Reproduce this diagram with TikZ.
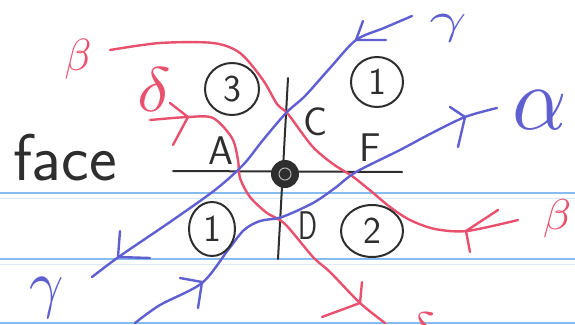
\documentclass[tikz,border=0pt]{standalone}
\usepackage{fontspec}
\usepackage{graphicx}
\usetikzlibrary{shapes.geometric}
\definecolor{pencilc}{HTML}{2E2E2E}
\definecolor{redc}{HTML}{E8506E}
\definecolor{bluec}{HTML}{5F5FD2}
\definecolor{rulec}{HTML}{86BCEE}
\definecolor{faintc}{HTML}{DCE9F6}
\begin{document}
\begin{tikzpicture}[x=1pt,y=-1pt,
  pencil/.style={draw=pencilc, line width=2pt, line cap=round, line join=round},
  redpen/.style={draw=redc, line width=2.4pt, line cap=round, line join=round},
  bluepen/.style={draw=bluec, line width=2.4pt, line cap=round, line join=round},
  ruled/.style={draw=rulec, line width=1.4pt},
  faint/.style={draw=faintc, line width=1pt},
  lbl/.style={inner sep=0pt, text=pencilc, font=\fontsize{40}{40}\selectfont\sffamily},
  greek/.style={inner sep=0pt},
  numcirc/.style={pencil, ellipse, inner sep=0pt, text=pencilc, font=\fontsize{38}{38}\selectfont\sffamily},
  dot/.style={circle, fill=pencilc, inner sep=0pt, minimum size=28pt}
]
\useasboundingbox (0,0) rectangle (575,324);
\fill[white] (0,0) rectangle (575,324);
% ruled paper
\foreach \yy in {193,259,323}{
  \draw[faint] (0,\yy+5) -- (575,\yy+5);
  \draw[ruled] (0,\yy) -- (575,\yy);
}
% black cross
\coordinate (hl) at (173,171);
\coordinate (hr) at (402,172);
\coordinate (vt) at (288,78);
\coordinate (vb) at (278,259);
\draw[pencil] (hl) -- (hr);
\draw[pencil] (vt) -- (vb);
% red beta path
\draw[redpen] plot[smooth] coordinates {(110,50) (160,43) (213,43) (240,53) (263,80) (277,104) (288,114) (312,146) (333,164) (352,176) (372,192) (390,207) (410,220) (435,229) (467,231) (518,220)};
\draw[redpen] (498,210) -- (466,231) -- (470,252);
% red delta path
\draw[redpen] plot[smooth] coordinates {(150,120) (188,117) (213,118) (232,138) (238,160) (240,178) (250,197) (267,213) (285,224) (313,257) (330,272) (360,303) (385,323)};
\draw[redpen] (170,103) -- (188,117) -- (173,145);
\draw[redpen] (362,282) -- (360,303) -- (322,317);
% blue gamma path
\draw[bluepen] plot[smooth] coordinates {(412,16) (384,28) (356,40) (330,68) (305,96) (286,113) (263,140) (243,165) (215,190) (170,222) (120,256) (92,277)};
\draw[bluepen] (363,21) -- (356,40) -- (386,40);
\draw[bluepen] (120,231) -- (118,257) -- (150,258);
% blue alpha path
\draw[bluepen] plot[smooth] coordinates {(135,323) (160,305) (202,283) (228,250) (244,230) (260,221) (282,217) (313,203) (335,188) (356,172) (400,150) (430,134) (465,117) (497,108)};
\draw[bluepen] (180,278) -- (202,282) -- (198,308);
\draw[bluepen] (450,107) -- (465,117) -- (458,147);
% centre dot
\node[dot] (ctr) at (285,174) {};
\draw[gray!60, line width=1pt] (ctr) circle (6);
% circled numbers
\node[numcirc, minimum width=54pt, minimum height=52pt] (n3) at (232,89) {3};
\node[numcirc, minimum width=52pt, minimum height=50pt] (n1a) at (377,82) {1};
\node[numcirc, minimum width=46pt, minimum height=54pt] (n1b) at (212,229) {1};
\node[numcirc, minimum width=62pt, minimum height=52pt] (n2) at (372,231) {2};
% letters
\node[lbl] (lA) at (221,151) {A};
\node[lbl] (lC) at (316,122) {C};
\node[lbl] (lF) at (370,148) {F};
\node[lbl, xscale=0.7] (lD) at (308,226) {D};
\node[inner sep=0pt, text=pencilc, font=\fontsize{66}{66}\selectfont\sffamily] (face) at (65,158) {face};
% greek labels
\node[greek, text=redc] (betaL) at (78,59) {\scalebox{4.4}[4.5]{$\beta$}};
\node[greek, text=redc] (deltaL) at (154,90) {\scalebox{7}[6.3]{$\delta$}};
\node[greek, text=bluec] (gammaT) at (448,28) {\scalebox{6.5}[4.4]{$\gamma$}};
\node[greek, text=bluec] (alphaR) at (540,110) {\scalebox{8.5}[9]{$\alpha$}};
\node[greek, text=bluec] (gammaB) at (47,298) {\scalebox{6}[6.5]{$\gamma$}};
\node[greek, text=redc] (betaR) at (557,219) {\scalebox{4.6}[4.3]{$\beta$}};
\node[greek, text=redc, anchor=north] (deltaB) at (421,313) {\scalebox{6}[5]{$\delta$}};
\end{tikzpicture}
\end{document}
